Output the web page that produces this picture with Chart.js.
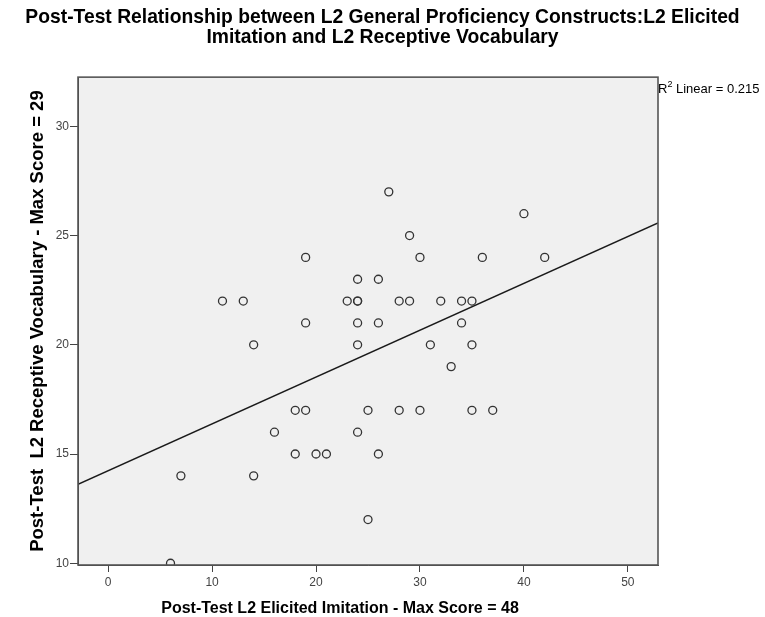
<!DOCTYPE html>
<html>
<head>
<meta charset="utf-8">
<title>Post-Test Relationship: L2 Elicited Imitation and L2 Receptive Vocabulary</title>
<script src="https://cdn.jsdelivr.net/npm/chart.js@4.4.1/dist/chart.umd.min.js"></script>
<style>
  html, body { margin: 0; padding: 0; background: #fff; }
  #wrap { width: 765px; height: 617px; position: relative; }
</style>
</head>
<body>
<div id="wrap"><canvas id="scatterChart"></canvas></div>
<script>
// One entry per learner (x and y paired by index)
const elicitedImitation = [6, 7, 11, 13, 14, 14, 16, 18, 18, 19, 19, 19, 20, 21, 23,
  24, 24, 24, 24, 24, 24, 25, 25, 26, 26, 26, 27, 28, 28, 29, 29, 30, 30,
  31, 32, 33, 34, 34, 35, 35, 35, 36, 37, 40, 42];
const receptiveVocab = [10, 14, 22, 22, 20, 14, 16, 17, 15, 24, 21, 17, 15, 15, 22,
  22, 22, 23, 21, 20, 16, 17, 12, 23, 21, 15, 27, 22, 17, 25, 22, 24, 17,
  20, 22, 19, 22, 21, 22, 20, 17, 24, 17, 26, 24];

const xTicks = [0, 10, 20, 30, 40, 50];
const yTicks = [10, 15, 20, 25, 30];
const xRange = [-2.9, 52.9];
const yRange = [9.92, 32.25];

const titleLines = [
  'Post-Test Relationship between L2 General Proficiency Constructs:L2 Elicited',
  'Imitation and L2 Receptive Vocabulary'
];
const xTitle = 'Post-Test L2 Elicited Imitation - Max Score = 48';
const yTitle = 'Post-Test  L2 Receptive Vocabulary - Max Score = 29';
const fitText = ' Linear = 0.215';

const FONT = "'Liberation Sans', Arial, sans-serif";

// least squares fit, like SPSS "fit line at total"
const n = elicitedImitation.length;
const meanX = elicitedImitation.reduce((a, b) => a + b, 0) / n;
const meanY = receptiveVocab.reduce((a, b) => a + b, 0) / n;
let sxx = 0, sxy = 0;
for (let i = 0; i < n; i++) {
  sxx += (elicitedImitation[i] - meanX) ** 2;
  sxy += (elicitedImitation[i] - meanX) * (receptiveVocab[i] - meanY);
}
const slope = sxy / sxx;
const intercept = meanY - slope * meanX;
const fitLine = xRange.map(x => ({x: x, y: intercept + slope * x}));

const points = elicitedImitation.map((x, i) => ({x: x, y: receptiveVocab[i]}));

const plotFrame = {
  id: 'plotFrame',
  beforeDraw(chart) {
    const {ctx, chartArea: a} = chart;
    ctx.save();
    ctx.fillStyle = '#f0f0f0';
    ctx.fillRect(a.left, a.top, a.right - a.left, a.bottom - a.top);
    ctx.restore();
  },
  afterDraw(chart) {
    const {ctx, chartArea: a} = chart;
    ctx.save();
    ctx.strokeStyle = '#555';
    ctx.lineWidth = 1.6;
    ctx.strokeRect(a.left, a.top, a.right - a.left, a.bottom - a.top);

    // x axis title (SPSS puts it a bit left of the plot centre)
    ctx.fillStyle = '#000';
    ctx.font = 'bold 16px ' + FONT;
    ctx.textAlign = 'center';
    ctx.textBaseline = 'middle';
    ctx.fillText(xTitle, 340, 609);

    // R² label beside the top right corner
    ctx.textBaseline = 'alphabetic';
    ctx.textAlign = 'left';
    let x = a.right;
    const y = a.top + 16;
    ctx.font = '13px ' + FONT;
    ctx.fillText('R', x, y);
    x += ctx.measureText('R').width;
    ctx.font = '9px ' + FONT;
    ctx.fillText('2', x, y - 6);
    x += ctx.measureText('2').width;
    ctx.font = '13px ' + FONT;
    ctx.fillText(fitText, x, y);
    ctx.restore();
  }
};

new Chart(document.getElementById('scatterChart'), {
  type: 'scatter',
  data: {
    datasets: [{
      data: points,
      yAxisID: 'y',
      pointStyle: 'circle',
      pointRadius: 4,
      pointHoverRadius: 4,
      pointBorderWidth: 1.3,
      pointBorderColor: '#333',
      pointBackgroundColor: 'rgba(0,0,0,0)',
      clip: 0
    }, {
      type: 'line',
      data: fitLine,
      yAxisID: 'y',
      borderColor: '#1a1a1a',
      borderWidth: 1.4,
      pointRadius: 0,
      fill: false,
      clip: 0
    }]
  },
  options: {
    responsive: true,
    maintainAspectRatio: false,
    animation: false,
    layout: {padding: 0},
    plugins: {
      legend: {display: false},
      tooltip: {enabled: false},
      title: {
        display: true,
        text: titleLines,
        color: '#000',
        font: {family: FONT, size: 19.3, weight: 'bold', lineHeight: 1.04},
        padding: {top: 8, bottom: 29}
      }
    },
    scales: {
      x: {
        type: 'linear',
        min: xRange[0],
        max: xRange[1],
        afterBuildTicks: s => { s.ticks = xTicks.map(v => ({value: v})); },
        afterFit: s => { s.height = 52; },
        grid: {drawOnChartArea: false, drawTicks: true, tickLength: 7, color: '#444'},
        border: {display: true, color: '#444', width: 1},
        ticks: {color: '#444', font: {family: FONT, size: 12}, padding: 3}
      },
      y: {
        type: 'linear',
        min: yRange[0],
        max: yRange[1],
        afterBuildTicks: s => { s.ticks = yTicks.map(v => ({value: v})); },
        afterFit: s => { s.width = 78; },
        grid: {drawOnChartArea: false, drawTicks: true, tickLength: 8, color: '#444'},
        border: {display: true, color: '#444', width: 1},
        ticks: {color: '#444', font: {family: FONT, size: 12}, padding: 1},
        title: {
          display: true,
          text: yTitle,
          color: '#000',
          font: {family: FONT, size: 18.5, weight: 'bold'},
          padding: {top: 27, bottom: 0}
        }
      },
      // empty strip on the right, keeps the plot narrow while the title stays centred on the page
      side: {
        type: 'linear',
        position: 'right',
        display: true,
        grid: {display: false},
        border: {display: false},
        ticks: {display: false},
        afterFit: s => { s.width = 107; }
      }
    }
  },
  plugins: [plotFrame]
});
</script>
</body>
</html>
